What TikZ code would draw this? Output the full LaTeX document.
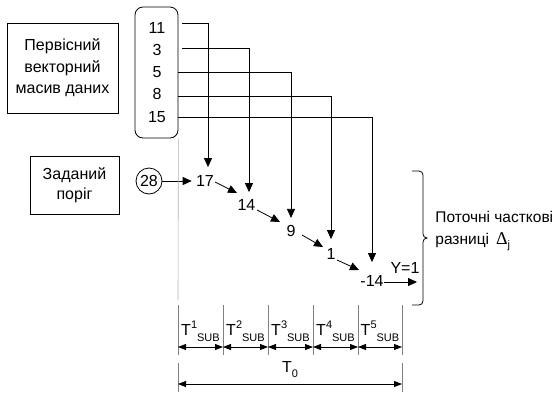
\documentclass[tikz,border=0pt]{standalone}
\usepackage{fontspec}
\setmainfont{Liberation Sans}
\newfontfamily\seriffont{Liberation Serif}
\usetikzlibrary{arrows.meta,calc}
\begin{document}
\begin{tikzpicture}[x=1pt,y=-1pt, line width=0.8pt,
  txt/.style={font=\fontsize{16}{19}\selectfont, inner sep=1pt},
  box/.style={draw, align=center, font=\fontsize{16}{21.5}\selectfont},
  arr/.style={-{Triangle[length=9pt,width=8pt]}},
  darr/.style={{Triangle[length=8pt,width=6pt]}-{Triangle[length=8pt,width=6pt]}},
  guide/.style={draw=gray, line width=0.6pt},
  tlab/.style={font=\fontsize{16}{18}\selectfont, inner sep=0pt}]
\useasboundingbox (0,0) rectangle (560,392);

% source boxes
\node[box, minimum width=111pt, minimum height=90pt] (src) at (62.5,68) {Первісний\\векторний\\масив даних};
\node[draw, rounded corners=8pt, minimum width=43pt, minimum height=131pt] (vec) at (156.5,72.5) {};
\node[txt] (n1) at (157,28) {11};
\node[txt] (n2) at (157,50) {3};
\node[txt] (n3) at (157,72) {5};
\node[txt] (n4) at (157,94) {8};
\node[txt] (n5) at (157,117) {15};

\node[box, minimum width=89pt, minimum height=58pt, font=\fontsize{16}{20}\selectfont] (thr) at (74.5,185) {Заданий\\поріг};
\node[draw, circle, txt, inner sep=0pt, minimum size=26pt] (c28) at (149,181) {28};

% results
\node[txt] (r1) at (205,181) {17};
\node[txt] (r2) at (246.5,205) {14};
\node[txt] (r3) at (291,231) {9};
\node[txt] (r4) at (331,254) {1};
\node[txt] (r5) at (372,281) {-14};
\node[txt] (y1) at (405,268) {Y=1};
\coordinate (yend) at (417,282);

% line starts
\coordinate (h1) at (182,23);
\coordinate (h2) at (182,48);
\coordinate (h3) at (178,72);
\coordinate (h4) at (178,96);
\coordinate (h5) at (178,117);

\draw[arr] (h1) -| ([xshift=3pt,yshift=7pt]r1.north);
\draw[arr] (h2) -| ([xshift=2.5pt,yshift=6pt]r2.north);
\draw[arr] (h3) -| ([yshift=6pt]r3.north);
\draw[arr] (h4) -| ([yshift=8pt]r4.north);
\draw[arr] (h5) -| ([yshift=12pt]r5.north);

\draw[arr] (c28.east) -- ([xshift=-3pt]r1.west);
\draw[arr] ($(r1)+(10,1)$) -- ($(r2)+(-9.5,-12)$);
\draw[arr] ($(r2)+(10.5,5)$) -- ($(r3)+(-11,-9)$);
\draw[arr] ($(r3)+(11,4)$) -- ($(r4)+(-8,-7)$);
\draw[arr] ($(r4)+(6,6)$) -- ($(r5)+(-13,-11)$);
\draw[arr] ($(r5)+(12,1)$) -- (yend);

% brace
\draw (412,171) -- (419,171) to[out=0,in=90] (423,175) -- (423,234)
  to[out=-90,in=180] (427,238) to[out=180,in=90] (423,242) -- (423,301)
  to[out=-90,in=0] (419,305) -- (412,305);
\node[anchor=west, font=\fontsize{15.5}{22.5}\selectfont, align=left, inner sep=0pt] (lab) at (435,231)
  {Поточні часткові\\разниці \,{\seriffont\fontsize{18}{18}\selectfont Δ}\raisebox{-4pt}{\fontsize{11}{11}\selectfont j}};

% time guides
\coordinate (g0) at (178,300);
\draw[draw=gray!60, line width=0.6pt] (vec.south east) -- (g0);
\foreach \x [count=\i from 0] in {178,223,268,313,358,402} {
  \coordinate (k\i) at (\x,305);
  \coordinate (kb\i) at (\x,355);
  \coordinate (a\i) at (\x,347);
  \draw[guide] (k\i) -- (kb\i);
}
\coordinate (t0a) at (178,363);
\coordinate (t0b) at (178,392);
\coordinate (t1a) at (402,363);
\coordinate (t1b) at (402,392);
\draw[guide] (t0a) -- (t0b);
\draw[guide] (t1a) -- (t1b);
\coordinate (ta) at (178,384);
\coordinate (tb) at (402,384);

\foreach \i/\j/\n in {0/1/1,1/2/2,2/3/3,3/4/4,4/5/5} {
  \draw[darr] (a\i) -- (a\j);
  \node[tlab] (lb\n) at ($(a\i)!0.5!(a\j)+(0,-16)$)
    {T\raisebox{7pt}{\fontsize{11}{11}\selectfont\n}\raisebox{-6pt}{\fontsize{11}{11}\selectfont SUB}};
}
\draw[darr] (ta) -- (tb);
\node[tlab] (lt0) at (290,370) {T\raisebox{-5pt}{\fontsize{11}{11}\selectfont 0}};
\end{tikzpicture}
\end{document}
